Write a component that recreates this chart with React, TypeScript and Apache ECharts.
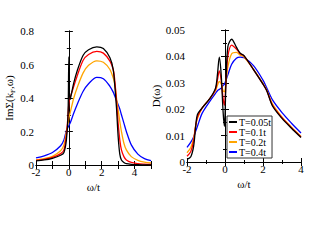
import React, { useEffect, useRef } from "react";
import * as echarts from "echarts";

// Left panel: Im Sigma(k_F, omega)
const leftX = [-2, -1.5, -1, -0.5, -0.3, -0.15, -0.05, 0, 0.05, 0.1, 0.3, 0.5, 0.87, 1.2, 1.7, 2.1, 2.5, 2.7, 2.8, 2.9, 3.0, 3.1, 3.2, 3.35, 3.5, 3.8, 4.2, 4.6, 5];
const leftBlack = [0.025, 0.03, 0.04, 0.058, 0.075, 0.15, 0.3, 0.646, 0.39, 0.4, 0.49, 0.56, 0.655, 0.688, 0.705, 0.695, 0.64, 0.57, 0.47, 0.34, 0.17, 0.065, 0.03, 0.015, 0.008, 0.004, 0.002, 0.001, 0.0];
const leftRed = [0.027, 0.034, 0.045, 0.068, 0.09, 0.18, 0.3, 0.37, 0.4, 0.41, 0.47, 0.53, 0.625, 0.66, 0.678, 0.668, 0.62, 0.57, 0.5, 0.38, 0.25, 0.15, 0.09, 0.05, 0.03, 0.015, 0.008, 0.005, 0.003];
const leftOrange = [0.03, 0.038, 0.052, 0.085, 0.12, 0.2, 0.25, 0.28, 0.3, 0.32, 0.4, 0.46, 0.55, 0.595, 0.622, 0.613, 0.57, 0.52, 0.48, 0.4, 0.33, 0.26, 0.2, 0.13, 0.09, 0.05, 0.028, 0.017, 0.012];
const leftBlue = [0.043, 0.055, 0.075, 0.115, 0.15, 0.205, 0.225, 0.235, 0.245, 0.255, 0.31, 0.36, 0.44, 0.485, 0.523, 0.515, 0.47, 0.435, 0.41, 0.385, 0.36, 0.335, 0.3, 0.25, 0.2, 0.12, 0.065, 0.038, 0.026];

// Right panel: D(omega)
const rightX = [-2, -1.8, -1.65, -1.55, -1.45, -1.2, -0.8, -0.5, -0.4, -0.3, -0.2, -0.1, -0.03, 0.05, 0.15, 0.35, 0.6, 0.8, 1.0, 1.5, 2.0, 2.2, 2.5, 3.0, 3.5, 4.0];
const rightBlack = [0.001, 0.002, 0.006, 0.013, 0.018, 0.0205, 0.024, 0.028, 0.033, 0.0397, 0.033, 0.019, 0.0135, 0.03, 0.0437, 0.0465, 0.0435, 0.0412, 0.0403, 0.035, 0.0295, 0.027, 0.0212, 0.0165, 0.0128, 0.0093];
const rightRed = [0.0022, 0.004, 0.008, 0.0135, 0.017, 0.0205, 0.024, 0.0275, 0.031, 0.0345, 0.031, 0.024, 0.0215, 0.03, 0.04, 0.0443, 0.0428, 0.041, 0.0402, 0.035, 0.0295, 0.027, 0.0215, 0.0168, 0.013, 0.0095];
const rightOrange = [0.0035, 0.0055, 0.009, 0.0135, 0.0165, 0.0205, 0.024, 0.027, 0.029, 0.0305, 0.0295, 0.027, 0.0266, 0.03, 0.036, 0.041, 0.0415, 0.0405, 0.0398, 0.0352, 0.0298, 0.0272, 0.022, 0.017, 0.0132, 0.0097];
const rightBlue = [0.0055, 0.0075, 0.0095, 0.0115, 0.0135, 0.0185, 0.023, 0.026, 0.027, 0.0275, 0.028, 0.029, 0.0295, 0.031, 0.033, 0.037, 0.0393, 0.0397, 0.0395, 0.0365, 0.031, 0.028, 0.0235, 0.0187, 0.0147, 0.011];

const seriesNames = ["T=0.05t", "T=0.1t", "T=0.2t", "T=0.4t"];
const seriesColors = ["#000000", "#ff0000", "#ffa500", "#0000ff"];

const FONT = "Liberation Serif";

function pairs(xs: number[], ys: number[]) {
  return xs.map((x, i) => [x, ys[i]]);
}

export default function App() {
  const ref = useRef<HTMLDivElement>(null);
  useEffect(() => {
    if (!ref.current) return;
    const chart = echarts.init(ref.current, null, { renderer: "svg" });
    const axisLine = { show: true, lineStyle: { color: "#000", width: 1 } };
    const tick = { show: true, inside: true, length: 4, lineStyle: { color: "#000" } };
    const minor = { show: true, splitNumber: 2, length: 2, lineStyle: { color: "#000" } };
    const richText = { t: { fontFamily: FONT, fontSize: 11, color: "#000" } };
    const label = { color: "#000", fontFamily: FONT, fontSize: 11, margin: 2, rich: richText };
    const xlabel = { ...label, margin: 1 };
    const mirror = (extra: any) => ({
      axisLine,
      axisTick: tick,
      axisLabel: { show: false },
      splitLine: { show: false },
      ...extra,
    });
    const leftData = [leftBlack, leftRed, leftOrange, leftBlue];
    const rightData = [rightBlack, rightRed, rightOrange, rightBlue];
    const series: any[] = [];
    leftData.forEach((d, i) => {
      series.push({
        type: "line",
        name: seriesNames[i],
        xAxisIndex: 0,
        yAxisIndex: 0,
        data: pairs(leftX, d),
        symbol: "none",
        smooth: 0.3,
        lineStyle: { color: seriesColors[i], width: 1.3 },
        itemStyle: { color: seriesColors[i] },
        z: 10 - i,
      });
    });
    rightData.forEach((d, i) => {
      series.push({
        type: "line",
        name: seriesNames[i],
        xAxisIndex: 2,
        yAxisIndex: 2,
        data: pairs(rightX, d),
        symbol: "none",
        smooth: 0.3,
        lineStyle: { color: seriesColors[i], width: 1.3 },
        itemStyle: { color: seriesColors[i] },
        z: 10 - i,
      });
    });
    chart.setOption({
      animation: false,
      textStyle: { fontFamily: FONT, color: "#000" },
      grid: [
        { left: 36, top: 31, width: 115, height: 134 },
        { left: 187, top: 30, width: 114, height: 132 },
      ],
      legend: {
        data: seriesNames,
        orient: "vertical",
        left: 227,
        top: 116,
        icon: "rect",
        itemWidth: 8,
        itemHeight: 2,
        itemGap: 0,
        padding: [1, 1, 1, 2],
        borderColor: "#333",
        borderWidth: 1,
        backgroundColor: "#fff",
        formatter: (n: string) => `{t|${n}}`,
        textStyle: {
          fontFamily: FONT,
          fontSize: 10,
          color: "#000",
          lineHeight: 10,
          padding: [0, 0, 0, -3],
          rich: { t: { fontFamily: FONT, fontSize: 10, color: "#000", lineHeight: 10 } },
        },
      },
      xAxis: [
        {
          type: "value",
          gridIndex: 0,
          min: -2,
          max: 5,
          interval: 1,
          axisLine,
          axisTick: tick,
          axisLabel: { ...xlabel, formatter: (v: number) => (v % 2 === 0 && v < 5 ? `{t|${v}}` : "") },
          splitLine: { show: false },
          name: "{t|ω/t}",
          nameLocation: "middle",
          nameGap: 9,
          nameTextStyle: { fontFamily: FONT, fontSize: 11, color: "#000", rich: richText },
        },
        mirror({ type: "value", gridIndex: 0, min: -2, max: 5, interval: 1, position: "top" }),
        {
          type: "value",
          gridIndex: 1,
          min: -2,
          max: 4,
          interval: 2,
          axisLine,
          axisTick: tick,
          minorTick: minor,
          axisLabel: { ...xlabel, formatter: (v: number) => `{t|${v}}` },
          splitLine: { show: false },
          name: "{t|ω/t}",
          nameLocation: "middle",
          nameGap: 8,
          nameTextStyle: { fontFamily: FONT, fontSize: 11, color: "#000", rich: richText },
        },
        mirror({ type: "value", gridIndex: 1, min: -2, max: 4, interval: 2, position: "top", minorTick: minor }),
      ],
      yAxis: [
        {
          type: "value",
          gridIndex: 0,
          min: 0,
          max: 0.8,
          interval: 0.2,
          axisLine,
          axisTick: tick,
          minorTick: minor,
          axisLabel: { ...label, formatter: (v: number) => `{t|${v === 0 ? "0" : v.toFixed(1)}}` },
          splitLine: { show: false },
          name: "{a|ImΣ(k}{s|F}{a|,ω)}",
          nameLocation: "middle",
          nameRotate: 90,
          nameGap: 19,
          nameTextStyle: {
            fontFamily: FONT,
            color: "#000",
            rich: {
              a: { fontFamily: FONT, fontSize: 11, color: "#000", lineHeight: 14 },
              s: { fontFamily: FONT, fontSize: 7, color: "#000", lineHeight: 14, verticalAlign: "bottom", padding: [5, 0, 0, 0] },
            },
          },
        },
        mirror({ type: "value", gridIndex: 0, min: 0, max: 0.8, interval: 0.2, position: "right", minorTick: minor }),
        {
          type: "value",
          gridIndex: 1,
          min: 0,
          max: 0.05,
          interval: 0.01,
          axisLine,
          axisTick: tick,
          minorTick: minor,
          axisLabel: { ...label, formatter: (v: number) => `{t|${v === 0 ? "0" : v.toFixed(2)}}` },
          splitLine: { show: false },
          name: "{t|D(ω)}",
          nameLocation: "middle",
          nameRotate: 90,
          nameGap: 24,
          nameTextStyle: { fontFamily: FONT, fontSize: 11, color: "#000", rich: richText },
        },
        mirror({ type: "value", gridIndex: 1, min: 0, max: 0.05, interval: 0.01, position: "right", minorTick: minor }),
      ],
      series,
    });
    return () => chart.dispose();
  }, []);
  return (
    <div
      ref={ref}
      style={{ position: "fixed", left: 0, top: 0, width: 317, height: 245, background: "#fff" }}
    />
  );
}
